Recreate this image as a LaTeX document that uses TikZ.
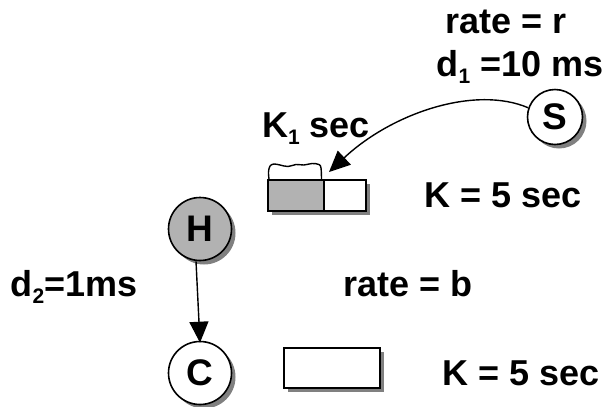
\documentclass[tikz,border=0pt]{standalone}
\usepackage{fontspec}
\setmainfont{Liberation Sans}
\usetikzlibrary{shadows,arrows.meta}
\newcommand{\mysub}[1]{\raisebox{-7bp}{\fontsize{21bp}{21bp}\selectfont #1}}
\tikzset{
  lbl/.style={font=\fontsize{36bp}{40bp}\selectfont\bfseries, inner sep=0pt, anchor=base},
  shad/.style={drop shadow={shadow xshift=4bp, shadow yshift=-4bp, fill=black!50, opacity=1}},
  circ/.style={circle, draw, line width=1.6bp, inner sep=0pt, fill=white, shad,
               font=\fontsize{37bp}{40bp}\selectfont\bfseries},
  qbox/.style={draw, line width=2bp, inner sep=0pt, fill=white, shad, anchor=north west},
  grayfill/.style={fill=black!30},
  arr/.style={line width=1.4bp, -{Triangle[length=21bp,width=19bp]}}
}
\begin{document}
\begin{tikzpicture}[x=1bp,y=-1bp]
\useasboundingbox (0,0) rectangle (612,406);
\fill[white] (0,0) rectangle (612,406);

% labels
\node[lbl] (rr) at (506,33) {rate = r};
\node[lbl] (d1) at (520,76) {d\mysub{1} =10 ms};
\node[lbl] (k1) at (316,137) {K\mysub{1} sec};
\node[lbl] (kt) at (503,207) {K = 5 sec};
\node[lbl] (rb) at (408,296) {rate = b};
\node[lbl] (d2) at (74,296) {d\mysub{2}=1ms};
\node[lbl] (kb) at (521,385) {K = 5 sec};

% circles
\node[circ, minimum size=55bp] (S) at (555,117) {S};
\node[circ, grayfill, minimum size=63bp] (H) at (200,229) {H};
\node[circ, minimum size=63bp] (C) at (200,373) {C};

% queues
\node[qbox, grayfill, minimum width=56bp, minimum height=31bp] (q1) at (267,179) {};
\node[qbox, minimum width=42bp, minimum height=31bp] (q2) at (323,179) {};
\node[qbox, minimum width=96bp, minimum height=40bp] (q3) at (283,347) {};

% brace over occupied part
\draw[line width=1.4bp, line join=round]
  plot[smooth, tension=0.6] coordinates {(269,179) (268.5,172) (270,166) (274,164)
  (280,165) (288,166.5) (296,164.5) (304,165) (312,163.5) (319,164.5) (321,168) (321.5,179)};

% connectors
\coordinate (qin) at (329,172);
\draw[arr] (S.161) .. controls (475,85) and (392,113) .. (qin);
\draw[arr] ([xshift=-4bp]H.south) -- ([yshift=-2bp]C.north);
\end{tikzpicture}
\end{document}
